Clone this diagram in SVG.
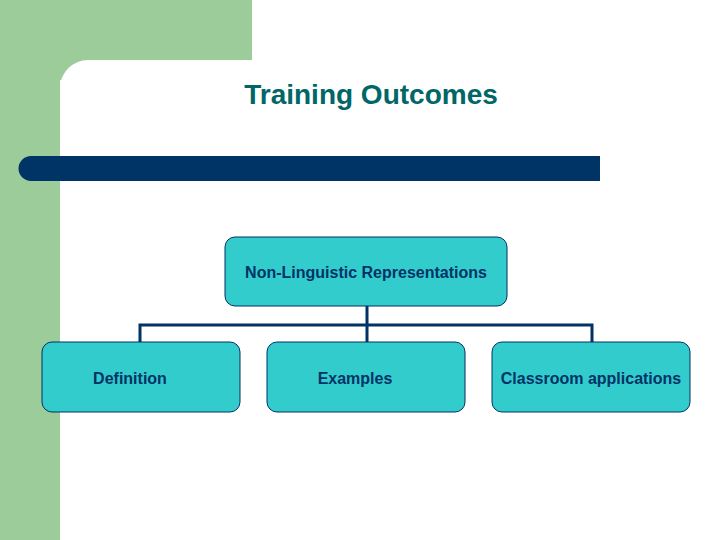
<svg xmlns="http://www.w3.org/2000/svg" width="720" height="540" viewBox="0 0 720 540">
<style>
.n{fill:#33CCCC;stroke:#003366;stroke-width:1}
.t{font-family:"Liberation Sans",Arial,sans-serif;font-weight:bold;font-size:16px;fill:#003366;text-anchor:middle}
.c{fill:none;stroke:#003366;stroke-width:3}
</style>
<rect width="720" height="540" fill="#fff"/>
<rect x="0" y="0" width="252" height="80" fill="#9CCC9A"/>
<rect x="0" y="0" width="60" height="540" fill="#9CCC9A"/>
<path d="M60 540V88a28 28 0 0 1 28-28H252V80H60z" fill="#fff"/>
<rect x="60" y="60" width="660" height="480" rx="0" fill="none"/>
<path d="M31 156H600V181H31a12.5 12.5 0 0 1 0-25z" fill="#003366"/>
<text x="371" y="104" font-family="Liberation Sans,Arial,sans-serif" font-weight="bold" font-size="28" fill="#006666" text-anchor="middle">Training Outcomes</text>
<g id="connectors">
<path class="c" d="M367 306V325M140 342V325H592V342M367 325V342"/>
</g>
<g id="root"><rect class="n" x="225" y="237" width="282" height="69" rx="10"/><text class="t" x="366" y="278">Non-Linguistic Representations</text></g>
<g id="definition"><rect class="n" x="42" y="342" width="198" height="70" rx="10"/><text class="t" x="130" y="384">Definition</text></g>
<g id="examples"><rect class="n" x="267" y="342" width="198" height="70" rx="10"/><text class="t" x="355" y="384">Examples</text></g>
<g id="classroom"><rect class="n" x="492" y="342" width="198" height="70" rx="10"/><text class="t" x="591" y="384">Classroom applications</text></g>
</svg>
